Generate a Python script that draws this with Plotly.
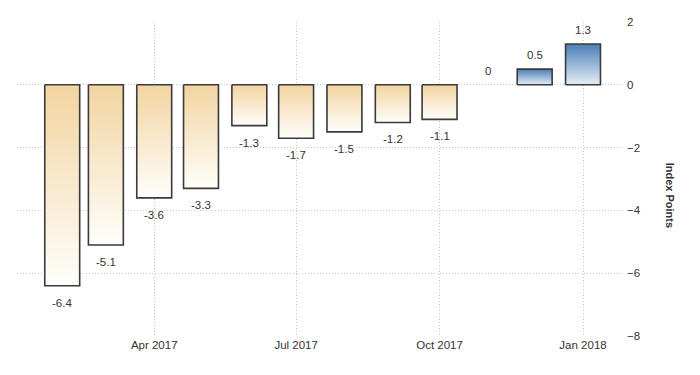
import plotly.graph_objects as go
import pandas as pd

months = ["2017-02-01", "2017-03-01", "2017-04-01", "2017-05-01", "2017-06-01", "2017-07-01",
          "2017-08-01", "2017-09-01", "2017-10-01", "2017-11-01", "2017-12-01", "2018-01-01"]
values = [-6.4, -5.1, -3.6, -3.3, -1.3, -1.7, -1.5, -1.2, -1.1, 0, 0.5, 1.3]
labels = ["-6.4", "-5.1", "-3.6", "-3.3", "-1.3", "-1.7", "-1.5", "-1.2", "-1.1", "0", "0.5", "1.3"]
x_ticks = ["2017-04-01", "2017-07-01", "2017-10-01", "2018-01-01"]
x_tick_labels = ["Apr 2017", "Jul 2017", "Oct 2017", "Jan 2018"]
y_ticks = [-8, -6, -4, -2, 0, 2]

FONT = "Liberation Sans Narrow, Arial Narrow, Liberation Sans, Arial, sans-serif"
half = pd.Timedelta(days=11.2)

fig = go.Figure()
for m, v in zip(months, values):
    if v == 0:
        continue
    d = pd.Timestamp(m)
    xs = [d - half, d - half, d + half, d + half, d - half]
    ys = [0, v, v, 0, 0]
    if v < 0:
        cs = [[0, "#fffefb"], [1, "#f2d4a0"]]
    else:
        cs = [[0, "#e6eef7"], [1, "#4a7fb5"]]
    fig.add_trace(go.Scatter(
        x=xs, y=ys, mode="lines", fill="toself",
        fillgradient=dict(type="vertical", colorscale=cs),
        line=dict(color="#3a3a3a", width=1.6),
        hoverinfo="skip", showlegend=False,
    ))

for m, v, t in zip(months, values, labels):
    fig.add_annotation(
        x=m, y=v, text=t, showarrow=False,
        yshift=(-17 if v < 0 else 14),
        font=dict(family=FONT, size=11.5, color="#333333"),
    )

fig.add_annotation(
    xref="paper", yref="paper", x=1, xshift=56, y=0.45,
    text="<b>Index Points</b>", textangle=90, showarrow=False,
    font=dict(family=FONT, size=11, color="#333333"),
)

GRID = dict(showgrid=True, gridcolor="#c8c8c8", griddash="1px,2px", gridwidth=1,
            showline=False, zeroline=False, ticks="")

fig.update_layout(
    width=700, height=375,
    margin=dict(l=17, r=78, t=22, b=39),
    plot_bgcolor="white", paper_bgcolor="white",
    font=dict(family=FONT, size=11.5, color="#333333"),
    showlegend=False,
)
fig.update_xaxes(
    type="date", range=["2017-01-03", "2018-01-26"],
    tickvals=x_ticks, ticktext=x_tick_labels,
    tickfont=dict(family=FONT, size=11.5, color="#333333"),
    **GRID,
)
fig.update_yaxes(
    range=[-8, 2], side="right", tickvals=y_ticks,
    tickfont=dict(family=FONT, size=11.5, color="#333333"),
    ticklabelstandoff=4,
    **GRID,
)

fig.write_html("out.html")
